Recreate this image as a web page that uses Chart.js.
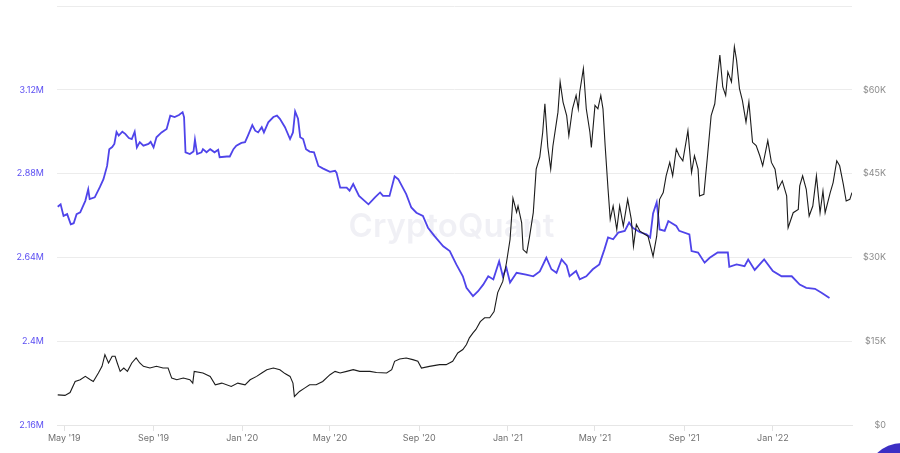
<!DOCTYPE html>
<html>
<head>
<meta charset="utf-8">
<script src="https://cdn.jsdelivr.net/npm/chart.js@4.4.0/dist/chart.umd.min.js"></script>
<style>
    html, body { margin: 0; padding: 0; background: #fff; overflow: hidden; }
    #wrap { position: relative; width: 900px; height: 453px; }
    #reserveChart { width: 900px; height: 453px; }
    #chatButton { position: absolute; left: 866px; top: 443px; width: 72px; height: 72px; border-radius: 50%; background: #3c2fc4; }
</style>
</head>
<body>
<div id="wrap">
    <canvas id="reserveChart" width="900" height="453"></canvas>
    <div id="chatButton"></div>
</div>
<script>
const xTickDates = ["2019-05-01", "2019-09-01", "2020-01-01", "2020-05-01", "2020-09-01", "2021-01-01", "2021-05-01", "2021-09-01", "2022-01-01"];
const xTickLabels = ["May '19", "Sep '19", "Jan '20", "May '20", "Sep '20", "Jan '21", "May '21", "Sep '21", "Jan '22"];

const reserveTicks = [2.16, 2.4, 2.64, 2.88, 3.12, 3.36];
const reserveTickLabels = ["2.16M", "2.4M", "2.64M", "2.88M", "3.12M", ""];
const priceTicks = [0, 15, 30, 45, 60, 75];
const priceTickLabels = ["$0", "$15K", "$30K", "$45K", "$60K", ""];

// BTC price, thousands of USD (black line, right axis)
const priceDates = [
    "2019-04-22", "2019-05-02", "2019-05-09", "2019-05-16", "2019-05-23", "2019-05-30", "2019-06-06", "2019-06-10",
    "2019-06-17", "2019-06-22", "2019-06-26", "2019-07-01", "2019-07-06", "2019-07-10", "2019-07-13", "2019-07-17",
    "2019-07-22", "2019-07-27", "2019-08-02", "2019-08-08", "2019-08-13", "2019-08-18", "2019-08-27", "2019-09-05",
    "2019-09-14", "2019-09-21", "2019-09-26", "2019-10-03", "2019-10-12", "2019-10-21", "2019-10-25", "2019-10-27",
    "2019-11-08", "2019-11-18", "2019-11-25", "2019-12-04", "2019-12-17", "2019-12-26", "2020-01-05", "2020-01-12",
    "2020-01-21", "2020-01-28", "2020-02-04", "2020-02-13", "2020-02-22", "2020-02-29", "2020-03-07", "2020-03-11",
    "2020-03-13", "2020-03-20", "2020-03-27", "2020-04-03", "2020-04-12", "2020-04-21", "2020-05-01", "2020-05-08",
    "2020-05-15", "2020-05-24", "2020-06-02", "2020-06-11", "2020-06-25", "2020-07-04", "2020-07-18", "2020-07-25",
    "2020-07-29", "2020-08-05", "2020-08-14", "2020-08-23", "2020-08-30", "2020-09-04", "2020-09-15", "2020-09-29",
    "2020-10-08", "2020-10-17", "2020-10-24", "2020-10-31", "2020-11-05", "2020-11-09", "2020-11-14", "2020-11-18",
    "2020-11-24", "2020-11-30", "2020-12-07", "2020-12-13", "2020-12-18", "2020-12-25", "2020-12-30", "2021-01-04",
    "2021-01-08", "2021-01-13", "2021-01-15", "2021-01-20", "2021-01-22", "2021-01-27", "2021-01-31", "2021-02-05",
    "2021-02-09", "2021-02-14", "2021-02-18", "2021-02-21", "2021-02-25", "2021-03-01", "2021-03-04", "2021-03-11",
    "2021-03-14", "2021-03-18", "2021-03-23", "2021-03-26", "2021-03-31", "2021-04-05", "2021-04-08", "2021-04-10",
    "2021-04-15", "2021-04-19", "2021-04-24", "2021-04-26", "2021-05-01", "2021-05-05", "2021-05-09", "2021-05-12",
    "2021-05-15", "2021-05-19", "2021-05-22", "2021-05-26", "2021-05-31", "2021-06-04", "2021-06-09", "2021-06-15",
    "2021-06-20", "2021-06-23", "2021-06-27", "2021-07-02", "2021-07-09", "2021-07-13", "2021-07-20", "2021-07-25",
    "2021-07-29", "2021-08-03", "2021-08-07", "2021-08-12", "2021-08-16", "2021-08-21", "2021-08-25", "2021-08-30",
    "2021-09-06", "2021-09-11", "2021-09-15", "2021-09-20", "2021-09-22", "2021-09-28", "2021-10-03", "2021-10-08",
    "2021-10-13", "2021-10-16", "2021-10-20", "2021-10-24", "2021-10-28", "2021-10-31", "2021-11-05", "2021-11-09",
    "2021-11-12", "2021-11-16", "2021-11-20", "2021-11-25", "2021-11-29", "2021-12-04", "2021-12-09", "2021-12-14",
    "2021-12-18", "2021-12-25", "2021-12-30", "2022-01-04", "2022-01-08", "2022-01-14", "2022-01-20", "2022-01-22",
    "2022-01-29", "2022-02-05", "2022-02-07", "2022-02-11", "2022-02-16", "2022-02-20", "2022-02-25", "2022-03-02",
    "2022-03-07", "2022-03-11", "2022-03-14", "2022-03-21", "2022-03-25", "2022-03-30", "2022-04-03", "2022-04-08",
    "2022-04-12", "2022-04-17", "2022-04-20"
];
const priceValues = [
    5.4, 5.3, 5.8, 7.8, 8.1, 8.7, 8.1, 7.8,
    9.3, 10.5, 12.6, 11.1, 12.3, 12.3, 11.1, 9.6,
    10.2, 9.6, 11.1, 12.0, 11.1, 10.5, 10.2, 10.5,
    10.2, 10.2, 8.4, 8.1, 8.4, 8.1, 7.5, 9.6,
    9.3, 8.7, 7.2, 7.5, 6.9, 7.5, 7.2, 8.1,
    8.7, 9.3, 9.9, 10.2, 9.9, 9.2, 8.7, 7.5,
    5.1, 6.0, 6.6, 7.2, 7.2, 7.8, 9.0, 9.6,
    9.3, 9.6, 9.9, 9.6, 9.6, 9.4, 9.3, 9.9,
    11.4, 11.8, 12.0, 11.7, 11.4, 10.2, 10.5, 10.8,
    10.8, 11.4, 12.9, 13.5, 14.4, 15.6, 16.5, 17.1,
    18.5, 19.2, 19.2, 20.3, 23.7, 25.7, 29.0, 33.2,
    40.6, 38.1, 39.2, 36.2, 31.4, 30.8, 33.8, 38.0,
    45.8, 48.0, 52.4, 57.5, 49.8, 45.8, 49.9, 56.0,
    61.4, 57.8, 55.4, 51.8, 56.6, 59.0, 56.6, 59.6,
    63.8, 56.6, 52.4, 49.7, 57.2, 56.6, 59.0, 56.6,
    50.0, 42.2, 36.8, 39.2, 35.0, 39.2, 35.6, 40.4,
    36.8, 32.0, 35.9, 34.7, 34.1, 33.8, 30.2, 33.8,
    40.4, 41.6, 44.6, 47.0, 44.6, 49.4, 48.2, 47.3,
    52.7, 45.2, 48.2, 45.8, 41.0, 41.3, 48.2, 55.4,
    57.5, 61.4, 66.2, 60.5, 59.0, 63.2, 61.4, 67.7,
    65.3, 60.2, 58.1, 54.2, 57.8, 50.6, 50.0, 48.2,
    46.4, 50.9, 47.0, 45.8, 42.2, 43.7, 41.0, 35.3,
    38.0, 38.6, 42.8, 44.6, 42.2, 37.4, 39.2, 44.6,
    38.0, 41.9, 38.0, 41.6, 43.4, 47.3, 46.4, 43.1,
    40.1, 40.4, 41.6
];

// Exchange reserve, millions (purple line, left axis)
const reserveDates = [
    "2019-04-22", "2019-04-26", "2019-04-30", "2019-05-05", "2019-05-10", "2019-05-14", "2019-05-18", "2019-05-23",
    "2019-05-30", "2019-06-03", "2019-06-05", "2019-06-12", "2019-06-19", "2019-06-24", "2019-06-29", "2019-07-02",
    "2019-07-06", "2019-07-09", "2019-07-12", "2019-07-15", "2019-07-20", "2019-07-24", "2019-07-29", "2019-08-02",
    "2019-08-06", "2019-08-09", "2019-08-13", "2019-08-18", "2019-08-25", "2019-08-28", "2019-09-01", "2019-09-05",
    "2019-09-12", "2019-09-19", "2019-09-24", "2019-09-30", "2019-10-06", "2019-10-11", "2019-10-13", "2019-10-15",
    "2019-10-21", "2019-10-26", "2019-10-28", "2019-10-31", "2019-11-06", "2019-11-08", "2019-11-13", "2019-11-18",
    "2019-11-24", "2019-11-29", "2019-12-01", "2019-12-11", "2019-12-15", "2019-12-20", "2019-12-24", "2019-12-31",
    "2020-01-05", "2020-01-09", "2020-01-15", "2020-01-19", "2020-01-23", "2020-01-28", "2020-01-31", "2020-02-06",
    "2020-02-13", "2020-02-18", "2020-02-22", "2020-02-29", "2020-03-07", "2020-03-11", "2020-03-14", "2020-03-18",
    "2020-03-21", "2020-03-25", "2020-03-29", "2020-04-03", "2020-04-09", "2020-04-15", "2020-04-21", "2020-04-26",
    "2020-05-01", "2020-05-08", "2020-05-10", "2020-05-15", "2020-05-24", "2020-05-28", "2020-06-02", "2020-06-10",
    "2020-06-23", "2020-07-02", "2020-07-09", "2020-07-13", "2020-07-22", "2020-07-29", "2020-08-03", "2020-08-14",
    "2020-08-21", "2020-08-28", "2020-09-06", "2020-09-13", "2020-09-22", "2020-10-04", "2020-10-13", "2020-10-22",
    "2020-10-31", "2020-11-05", "2020-11-14", "2020-11-21", "2020-11-28", "2020-12-05", "2020-12-12", "2020-12-20",
    "2020-12-25", "2020-12-30", "2021-01-04", "2021-01-13", "2021-01-26", "2021-02-05", "2021-02-14", "2021-02-23",
    "2021-03-02", "2021-03-09", "2021-03-16", "2021-03-23", "2021-03-27", "2021-04-05", "2021-04-10", "2021-04-19",
    "2021-04-28", "2021-05-07", "2021-05-14", "2021-05-19", "2021-05-26", "2021-06-02", "2021-06-11", "2021-06-17",
    "2021-06-22", "2021-07-02", "2021-07-11", "2021-07-16", "2021-07-20", "2021-07-25", "2021-07-29", "2021-08-05",
    "2021-08-10", "2021-08-21", "2021-08-25", "2021-09-08", "2021-09-11", "2021-09-20", "2021-09-29", "2021-10-06",
    "2021-10-17", "2021-10-31", "2021-11-02", "2021-11-12", "2021-11-23", "2021-11-28", "2021-12-07", "2021-12-16",
    "2021-12-20", "2022-01-01", "2022-01-13", "2022-01-27", "2022-02-07", "2022-02-16", "2022-02-28", "2022-03-09",
    "2022-03-20"
];
const reserveValues = [
    2.785, 2.792, 2.759, 2.764, 2.735, 2.738, 2.764, 2.769,
    2.802, 2.835, 2.807, 2.812, 2.841, 2.864, 2.902, 2.950,
    2.956, 2.965, 2.999, 2.989, 3.000, 2.994, 2.982, 2.979,
    3.000, 2.955, 2.970, 2.960, 2.965, 2.971, 2.955, 2.984,
    2.998, 3.008, 3.046, 3.042, 3.048, 3.056, 3.042, 2.941,
    2.936, 2.943, 2.977, 2.936, 2.941, 2.950, 2.941, 2.950,
    2.941, 2.948, 2.927, 2.929, 2.929, 2.950, 2.960, 2.968,
    2.970, 2.989, 3.019, 3.003, 2.998, 3.013, 2.998, 3.027,
    3.042, 3.046, 3.037, 3.013, 2.979, 2.998, 3.058, 3.037,
    2.984, 2.979, 2.950, 2.943, 2.941, 2.902, 2.895, 2.890,
    2.885, 2.888, 2.883, 2.840, 2.840, 2.831, 2.850, 2.816,
    2.792, 2.812, 2.826, 2.816, 2.816, 2.872, 2.864, 2.821,
    2.783, 2.768, 2.759, 2.725, 2.701, 2.672, 2.658, 2.620,
    2.586, 2.553, 2.529, 2.543, 2.562, 2.586, 2.577, 2.629,
    2.586, 2.610, 2.568, 2.596, 2.591, 2.586, 2.600, 2.639,
    2.606, 2.596, 2.634, 2.617, 2.586, 2.601, 2.577, 2.586,
    2.606, 2.620, 2.663, 2.697, 2.692, 2.711, 2.716, 2.740,
    2.725, 2.712, 2.706, 2.697, 2.766, 2.798, 2.720, 2.716,
    2.744, 2.730, 2.716, 2.706, 2.658, 2.654, 2.625, 2.639,
    2.654, 2.654, 2.613, 2.620, 2.615, 2.634, 2.604, 2.625,
    2.634, 2.601, 2.586, 2.586, 2.562, 2.553, 2.550, 2.539,
    2.524
];

const chartElement = document.getElementById("reserveChart");
const startDay = Date.parse("2019-05-01");
const dayOf = d => (Date.parse(d) - startDay) / 86400000;
const tickFont = { family: "Inter, 'Noto Sans', sans-serif", size: 9 };

// y axes: fixed widths and no extra label padding on top
const fitY = width => scale => {
    scale.width = width;
    scale.paddingTop = 0;
    scale.paddingBottom = 0;
};

const watermarkPlugin = {
    id: "watermark",
    beforeDatasetsDraw(chart) {
        const ctx = chart.ctx;
        const area = chart.chartArea;
        ctx.save();
        ctx.font = "600 33px Inter, sans-serif";
        ctx.fillStyle = "rgba(40, 40, 110, 0.07)";
        ctx.textAlign = "center";
        ctx.textBaseline = "alphabetic";
        ctx.fillText("CryptoQuant", (area.left + area.right) / 2 - 3, 237);
        ctx.restore();
    }
};

const reserveChart = new Chart(chartElement, {
    type: "line",
    data: {
        datasets: [{
            label: "BTC Price",
            data: priceDates.map((d, i) => ({ x: dayOf(d), y: priceValues[i] })),
            yAxisID: "yPrice",
            borderColor: "#1c1c1c",
            borderWidth: 1.1,
            pointRadius: 0,
            tension: 0,
            order: 0
        }, {
            label: "Exchange Reserve",
            data: reserveDates.map((d, i) => ({ x: dayOf(d), y: reserveValues[i] })),
            yAxisID: "yReserve",
            borderColor: "#4f44ea",
            borderWidth: 1.8,
            pointRadius: 0,
            tension: 0,
            order: 1
        }]
    },
    options: {
        responsive: false,
        animation: false,
        layout: { padding: { top: 6, right: 14, left: 0, bottom: 0 } },
        plugins: {
            legend: { display: false },
            tooltip: { enabled: false }
        },
        scales: {
            x: {
                type: "linear",
                min: dayOf("2019-04-21"),
                max: dayOf("2022-04-20"),
                afterBuildTicks: scale => { scale.ticks = xTickDates.map(d => ({ value: dayOf(d) })); },
                afterFit: scale => { scale.height = 28; },
                ticks: {
                    callback: (value, index) => xTickLabels[index],
                    color: "#707070",
                    font: tickFont,
                    padding: 2,
                    maxRotation: 0,
                    autoSkip: false
                },
                grid: { drawOnChartArea: false, tickLength: 6, color: "#e2e2e2" },
                border: { color: "#e6e6e6" }
            },
            yReserve: {
                position: "left",
                min: 2.16,
                max: 3.36,
                afterBuildTicks: scale => { scale.ticks = reserveTicks.map(v => ({ value: v })); },
                afterFit: fitY(57),
                ticks: {
                    callback: (value, index) => reserveTickLabels[index],
                    color: "#5b4ef2",
                    font: tickFont,
                    padding: 13
                },
                grid: { color: "#ececec", drawTicks: false },
                border: { display: false }
            },
            yPrice: {
                position: "right",
                min: 0,
                max: 75,
                afterBuildTicks: scale => { scale.ticks = priceTicks.map(v => ({ value: v })); },
                afterFit: fitY(34),
                ticks: {
                    callback: (value, index) => priceTickLabels[index],
                    color: "#8b8b8b",
                    font: tickFont,
                    crossAlign: "far"
                },
                grid: { drawOnChartArea: false, drawTicks: false },
                border: { display: false }
            }
        }
    },
    plugins: [watermarkPlugin]
});
</script>
</body>
</html>
